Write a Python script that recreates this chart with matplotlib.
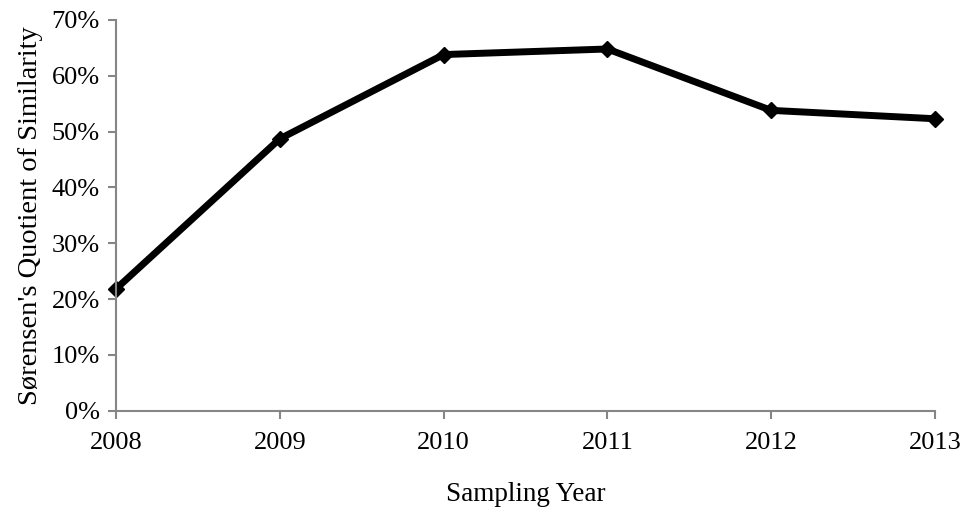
import matplotlib
matplotlib.use("Agg")
import matplotlib.pyplot as plt
from matplotlib.ticker import PercentFormatter

years = ['2008', '2009', '2010', '2011', '2012', '2013']
similarity = [21.8, 48.7, 63.8, 64.8, 53.8, 52.3]
yticks = [0, 10, 20, 30, 40, 50, 60, 70]

plt.rcParams['font.family'] = 'Liberation Serif'

fig = plt.figure(figsize=(9.66, 5.12), dpi=100)
ax = fig.add_axes([0.12, 0.198, 0.848, 0.763])

x = range(len(years))
ax.plot(x, similarity, color='black', lw=5, marker='D', ms=8.5, solid_joinstyle='miter', clip_on=False)

ax.set_xlim(0, len(years) - 1)
ax.set_ylim(0, 70)
ax.set_xticks(list(x))
ax.set_xticklabels(years)
ax.set_yticks(yticks)
ax.yaxis.set_major_formatter(PercentFormatter(decimals=0))

for s in ['top', 'right']:
    ax.spines[s].set_visible(False)
for s in ['left', 'bottom']:
    ax.spines[s].set_color('#868686')
    ax.spines[s].set_linewidth(1.5)
ax.tick_params(colors='#868686', labelcolor='black', labelsize=19, width=1.5, length=5.5, pad=6)
ax.tick_params(axis='x', pad=10)

ax.set_xlabel('Sampling Year', fontsize=19.5, labelpad=20)
ax.set_ylabel("Sørensen's Quotient of Similarity", fontsize=20.5, labelpad=6)

fig.savefig('out.png', dpi=100)
